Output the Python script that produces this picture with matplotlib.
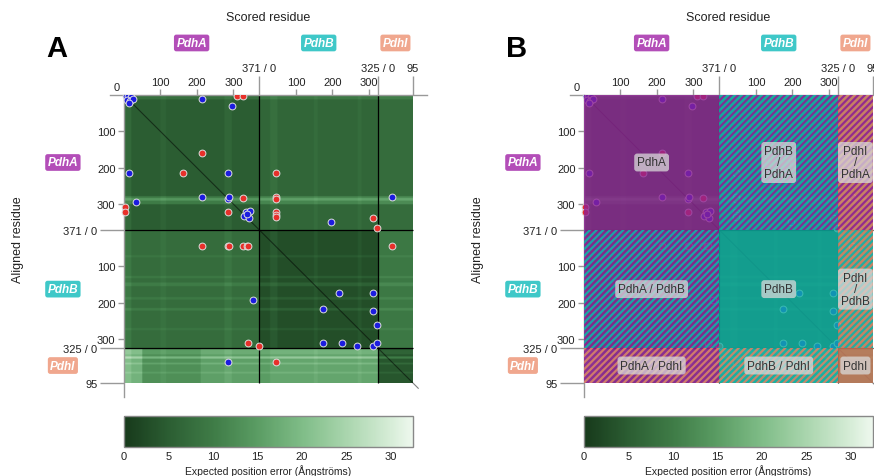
import numpy as np
import matplotlib.pyplot as plt
from matplotlib.colors import LinearSegmentedColormap
from matplotlib.patches import Rectangle

plt.rcParams['font.family'] = ['Liberation Sans', 'DejaVu Sans']
plt.rcParams['hatch.linewidth'] = 1.6

# chains and their lengths (residues)
chains = ['PdhA', 'PdhB', 'PdhI']
chain_len = [371, 325, 95]
tag_col = ['#b34eb8', '#3fc8c8', '#f0a78e']
overlay_col = ['#8e2294', '#10b2a8', '#d88467']

# mean expected position error per block (row chain x column chain)
block_pae = [[5.0, 6.5, 7.5],
             [7.5, 3.0, 9.5],
             [15.5, 16.5, 4.0]]

# lighter / darker rows (global index): start, end, delta
row_bands = [(0, 12, 3.0), (278, 300, 5.0), (283, 290, 4.0), (440, 446, 1.5),
             (497, 503, 2.0), (515, 525, 2.5), (555, 562, 2.0), (585, 592, 2.5),
             (640, 646, 1.5), (700, 712, 2.0), (718, 724, 6.0), (735, 740, 3.0),
             (760, 765, 2.0)]
# lighter columns (global index)
col_bands = [(0, 20, 2.0), (100, 115, 1.0), (275, 295, 1.5), (400, 420, 1.5),
             (520, 530, 1.0), (640, 650, 1.0)]
# local patches: row start, row end, col start, col end, delta
patches_adj = [(696, 791, 0, 50, 3.0), (696, 791, 50, 210, -2.5),
               (696, 791, 371, 420, -1.5)]

# red and blue marked residue pairs (global scored, global aligned)
red_x = [310, 325, 215, 161, 417, 325, 417, 417, 4, 4, 284, 417, 417, 417, 683, 692,
         215, 284, 288, 325, 336, 340, 735, 340, 369, 417]
red_y = [3, 3, 160, 213, 213, 282, 279, 285, 307, 322, 322, 322, 330, 336, 337, 366,
         415, 415, 415, 415, 415, 415, 415, 682, 689, 733]
blue_x = [5, 12, 20, 8, 17, 24, 14, 214, 296, 15, 284, 214, 284, 288, 735, 33,
          335, 345, 330, 342, 338, 567, 354, 590, 683, 545, 683, 692, 545, 597,
          637, 683, 692, 284]
blue_y = [4, 2, 6, 14, 16, 11, 22, 11, 30, 213, 213, 281, 285, 281, 281, 294,
          322, 320, 332, 338, 327, 350, 563, 544, 544, 588, 595, 633, 682, 682,
          689, 689, 682, 733]

block_labels = [['PdhA', 'PdhB\n/\nPdhA', 'PdhI\n/\nPdhA'],
                ['PdhA / PdhB', 'PdhB', 'PdhI\n/\nPdhB'],
                ['PdhA / PdhI', 'PdhB / PdhI', 'PdhI']]

cb_ticks = [0, 5, 10, 15, 20, 25, 30]

N = sum(chain_len)
offs = np.concatenate([[0], np.cumsum(chain_len)])
centers = (offs[:-1] + offs[1:]) / 2.0

pae = np.zeros((N, N))
for i in range(3):
    for j in range(3):
        pae[offs[i]:offs[i + 1], offs[j]:offs[j + 1]] = block_pae[i][j]
for s, e, d in row_bands:
    pae[s:e, :] += d
for s, e, d in col_bands:
    pae[:, s:e] += d
for r0, r1, c0, c1, d in patches_adj:
    pae[r0:r1, c0:c1] += d

cmap = LinearSegmentedColormap.from_list('pae', [
    (0.0, '#17391b'), (0.15, '#2b5d32'), (0.31, '#3f7c47'), (0.46, '#5a9c63'),
    (0.62, '#80bd88'), (0.77, '#a9d5ad'), (0.92, '#d5ecd6'), (1.0, '#eef8ee')])

fig = plt.figure(figsize=(8.74, 4.77), dpi=100)


def draw_panel(x0, letter, overlay):
    ax = fig.add_axes([(x0 - 14) / 874, 79 / 477, 317 / 874, 302 / 477])
    cax = fig.add_axes([x0 / 874, 29 / 477, 289 / 874, 31 / 477])
    im = ax.imshow(pae, cmap=cmap, vmin=0, vmax=32.5, aspect='auto',
                   extent=(0, N, N, 0), interpolation='bilinear', zorder=1)
    ax.vlines(offs[1:3], 0, N, color='black', lw=0.9, zorder=2)
    ax.hlines(offs[1:3], 0, N, color='black', lw=0.9, zorder=2)
    ax.plot([0, N + 15], [0, N + 15], color='black', lw=0.8, alpha=0.5, zorder=2)
    ax.scatter(red_x, red_y, s=24, color='#e8302a', edgecolors='#dddddd',
               linewidths=0.7, zorder=3)
    ax.scatter(blue_x, blue_y, s=24, color='#1c1ce0', edgecolors='#dddddd',
               linewidths=0.7, zorder=3)

    if overlay:
        for i in range(3):
            for j in range(3):
                if i == j:
                    rect = Rectangle((offs[j], offs[i]), chain_len[j], chain_len[i],
                                     facecolor=overlay_col[i], lw=0, alpha=0.8, zorder=4)
                else:
                    rect = Rectangle((offs[j], offs[i]), chain_len[j], chain_len[i],
                                     facecolor=overlay_col[j], edgecolor=overlay_col[i],
                                     hatch='/////', lw=0, alpha=0.9, zorder=4)
                ax.add_patch(rect)
                ax.text(centers[j], centers[i], block_labels[i][j], fontsize=8.5,
                        color='#333333', ha='center', va='center', linespacing=0.95,
                        zorder=5,
                        bbox=dict(boxstyle='round,pad=0.25', fc='#d9d9d9',
                                  ec='none', alpha=0.75))

    ax.set_xlim(-38, 830)
    ax.set_ylim(830, 0)
    for s in ['right', 'bottom']:
        ax.spines[s].set_visible(False)
    ax.spines['left'].set_position(('data', 0))
    for s in ['left', 'top']:
        ax.spines[s].set_color('#999999')
        ax.spines[s].set_linewidth(1.0)

    minor_pos = []
    minor_lab = []
    for k in range(3):
        for t in (100, 200, 300):
            if t < chain_len[k]:
                minor_pos.append(offs[k] + t)
                minor_lab.append(str(t))
    major_lab = ['%d / 0' % chain_len[0], '%d / 0' % chain_len[1], str(chain_len[2])]

    ax.xaxis.tick_top()
    ax.set_xticks(offs[1:], major_lab)
    ax.set_xticks(minor_pos, minor_lab, minor=True)
    ax.set_yticks(offs[1:], major_lab)
    ax.set_yticks(minor_pos, minor_lab, minor=True)
    ax.tick_params(axis='x', which='major', length=14, pad=2)
    ax.tick_params(axis='y', which='major', length=17, pad=2)
    ax.tick_params(which='minor', length=4, pad=2)
    ax.tick_params(which='both', labelsize=8, color='#999999', width=1.0,
                   labelcolor='#222222', top=True, bottom=False, labeltop=True,
                   labelbottom=False)
    ax.text(-19, -22, '0', fontsize=8, color='#222222', ha='center', va='center')

    ax.text(N / 2, -214, 'Scored residue', fontsize=9, color='#222222',
            ha='center', va='center')
    ax.text(-290, N / 2, 'Aligned residue', fontsize=9, color='#222222',
            ha='center', va='center', rotation=90)
    for k in range(3):
        kw = dict(fontsize=8.5, fontweight='bold', style='italic', color='white',
                  ha='center', va='center',
                  bbox=dict(boxstyle='round,pad=0.2', fc=tag_col[k], ec='none'))
        ax.text(centers[k], -143, chains[k], **kw)
        ax.text(-167, centers[k], chains[k], **kw)
    ax.text(-185, -128, letter, fontsize=21, fontweight='bold', ha='center',
            va='center', color='black')

    cb = fig.colorbar(im, cax=cax, orientation='horizontal')
    cb.set_ticks(cb_ticks)
    cax.tick_params(length=0, labelsize=8, pad=3, labelcolor='#222222')
    cb.outline.set_edgecolor('#888888')
    cb.outline.set_linewidth(1.0)
    cb.set_label('Expected position error (Ångströms)', fontsize=7.5,
                 color='#222222', labelpad=2)


draw_panel(124, 'A', False)
draw_panel(584, 'B', True)

fig.savefig('out.png', dpi=100)
